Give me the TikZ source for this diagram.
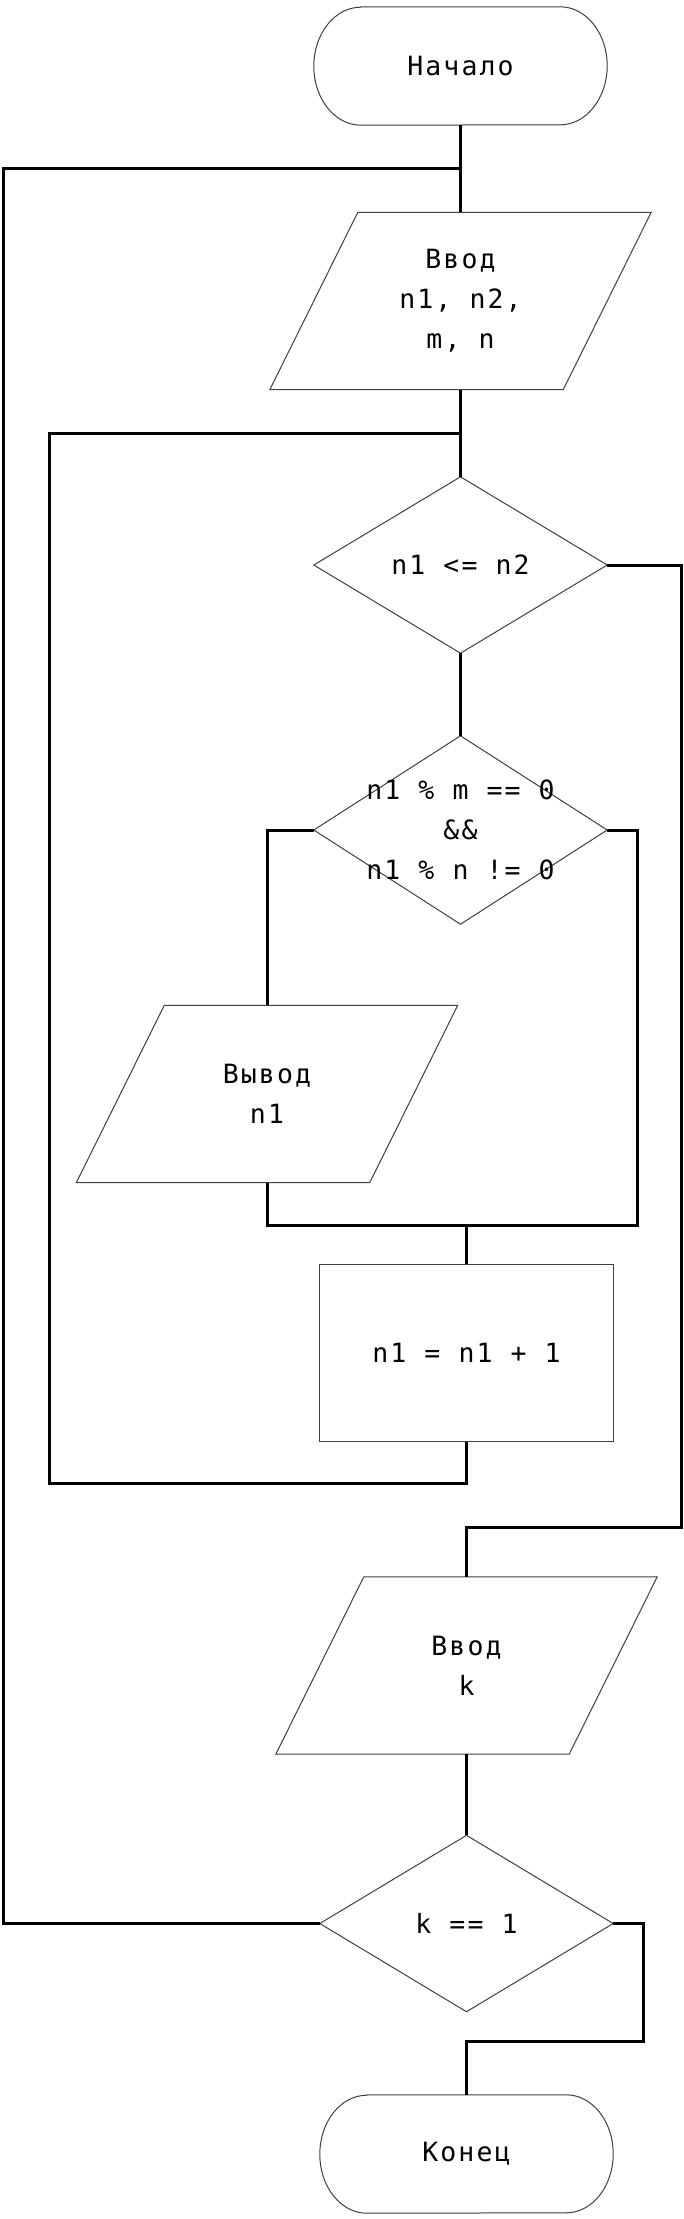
\documentclass[tikz,border=0pt]{standalone}
\usepackage{fontspec}
\newfontfamily\monofnt[LetterSpace=8]{DejaVu Sans Mono}
\pgfdeclarelayer{bg}
\pgfsetlayers{bg,main}
\begin{document}
\begin{tikzpicture}[x=1pt,y=-1pt,
  conn/.style={line width=3pt, black},
  outl/.style={line width=1pt, draw=black!75},
  lbl/.style={rectangle, draw=none, inner sep=0pt, align=center, font=\monofnt\fontsize{26.5}{40}\selectfont},
  term/.style={lbl, minimum width=293pt, minimum height=118pt},
  decis/.style={lbl, minimum width=293pt, minimum height=176pt},
  io/.style={lbl, minimum width=381pt, minimum height=177pt},
  proc/.style={lbl, minimum width=293pt, minimum height=177pt},
]
\useasboundingbox (0,0) rectangle (684,2219);

\node[term]  (start) at (460.5,66)   {Начало};
\node[io]    (in1)   at (460.5,301)  {Ввод\\n1, n2,\\m, n};
\node[decis] (d1)    at (460.5,565)  {n1 <= n2};
\node[decis, minimum height=188pt] (d2) at (460.5,830) {n1 \% m == 0\\\&\&\\n1 \% n != 0};
\node[io]    (out1)  at (267,1094)   {Вывод\\n1};
\node[proc]  (rect)  at (466.5,1353) {n1 = n1 + 1};
\node[io]    (in2)   at (466.5,1665.5) {Ввод\\k};
\node[decis] (d3)    at (466.5,1923.5) {k == 1};
\node[term]  (end)   at (466.5,2154) {Конец};

\coordinate (j1) at (460.5,168.3);
\coordinate (lo) at (3,168.3);
\coordinate (j2) at (460.5,433.3);
\coordinate (lb) at (49.5,1483.6);
\coordinate (r1) at (681.5,1527.5);
\coordinate (m2) at (637.5,1225.5);
\coordinate (r3) at (643,2041.6);

\begin{pgfonlayer}{bg}
\fill[white] (0,0) rectangle (684,2219);
% outlines
\foreach \t in {start,end}{
  \draw[outl] ([xshift=47pt]\t.north west) -- ([xshift=-47pt]\t.north east)
    arc[start angle=90, end angle=-90, x radius=47pt, y radius=59pt]
    -- ([xshift=47pt]\t.south west)
    arc[start angle=270, end angle=90, x radius=47pt, y radius=59pt] -- cycle;
}
\foreach \p in {in1,out1,in2}{
  \draw[outl] ([xshift=88pt]\p.north west) -- (\p.north east)
    -- ([xshift=-88pt]\p.south east) -- (\p.south west) -- cycle;
}
\foreach \d in {d1,d2,d3}{
  \draw[outl] (\d.north) -- (\d.east) -- (\d.south) -- (\d.west) -- cycle;
}
\draw[outl] (rect.north west) rectangle (rect.south east);
% connectors
\draw[conn] (start.south) -- (in1.north);
\draw[conn] (d3.west) -| (lo) -- (j1);
\draw[conn] (in1.south) -- (d1.north);
\draw[conn] (rect.south) |- (lb) |- (j2);
\draw[conn] (d1.south) -- (d2.north);
\draw[conn] (d1.east) -| (r1) -| (in2.north);
\draw[conn] (d2.west) -| (out1.north);
\draw[conn] (out1.south) |- (m2) |- (d2.east);
\draw[conn] (rect.north |- m2) -- (rect.north);
\draw[conn] (in2.south) -- (d3.north);
\draw[conn] (d3.east) -| (r3) -| (end.north);
\end{pgfonlayer}
\end{tikzpicture}
\end{document}
